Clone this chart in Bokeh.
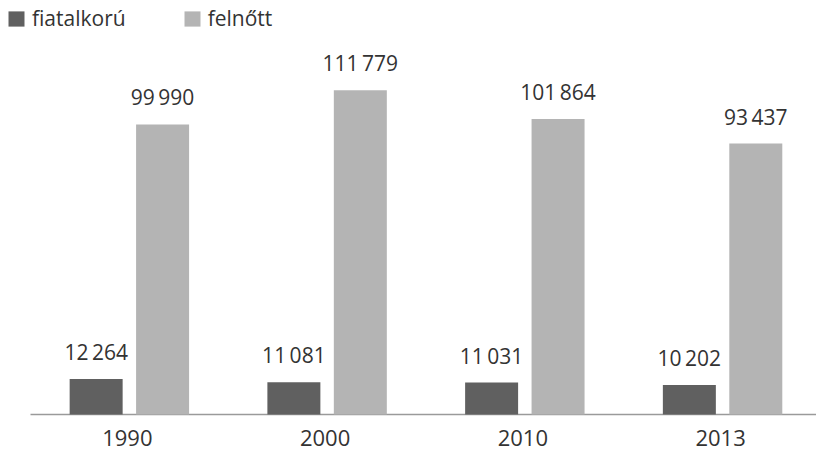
from bokeh.plotting import figure
from bokeh.models import ColumnDataSource, Range1d, Legend, LegendItem
from bokeh.core.properties import value
from bokeh.embed import file_html
from bokeh.resources import INLINE

years = ["1990", "2000", "2010", "2013"]
fiatalkoru = [12264, 11081, 11031, 10202]
felnott = [99990, 111779, 101864, 93437]
series_names = ["fiatalkorú", "felnőtt"]

def fmt(v):
    return f"{v:,}".replace(",", "\u2009")

idx = list(range(len(years)))
off = 0.168
w = 0.268
src_a = ColumnDataSource(dict(x=[i - off for i in idx], top=fiatalkoru, lab=[fmt(v) for v in fiatalkoru]))
src_b = ColumnDataSource(dict(x=[i + off for i in idx], top=felnott, lab=[fmt(v) for v in felnott]))
src_c = ColumnDataSource(dict(x=idx, y=[0] * len(idx), lab=years))

p = figure(width=816, height=451, output_backend="svg", toolbar_location=None,
           x_range=Range1d(-0.6517, 3.475), y_range=Range1d(-12757, 142743),
           min_border_left=0, min_border_right=0, min_border_top=0, min_border_bottom=0)
p.outline_line_color = None
p.xgrid.visible = False
p.ygrid.visible = False
p.xaxis.visible = False
p.yaxis.visible = False
p.background_fill_color = "white"

# baseline (category axis line) spanning the category band
p.segment(x0=[idx[0] - 0.5], x1=[idx[-1] + 0.5], y0=[0], y1=[0], line_color="#9a9a9a", line_width=1.5)

r1 = p.vbar(x="x", top="top", width=w, source=src_a, fill_color="#606060", line_color=None)
r2 = p.vbar(x="x", top="top", width=w, source=src_b, fill_color="#b4b4b4", line_color=None)

for s in (src_a, src_b):
    p.text(x="x", y="top", text="lab", source=s, text_align="center", text_baseline="bottom",
           y_offset=-13, text_font=value("Open Sans"), text_font_size="21px", text_color="#333333")

p.text(x="x", y="y", text="lab", source=src_c, text_align="center", text_baseline="middle",
       y_offset=23, x_offset=-2, text_font=value("Open Sans"), text_font_size="22px", text_color="#333333")

legend = Legend(items=[LegendItem(label=series_names[0], renderers=[r1]),
                       LegendItem(label=series_names[1], renderers=[r2])],
                orientation="horizontal", location=(6, 419),
                label_text_font="Open Sans", label_text_font_size="21px", label_text_color="#333333",
                glyph_width=20, glyph_height=19, label_standoff=6, spacing=56,
                padding=0, margin=0, border_line_color=None, background_fill_alpha=0)
p.add_layout(legend, "center")

open("out.html", "w").write(file_html(p, INLINE))
